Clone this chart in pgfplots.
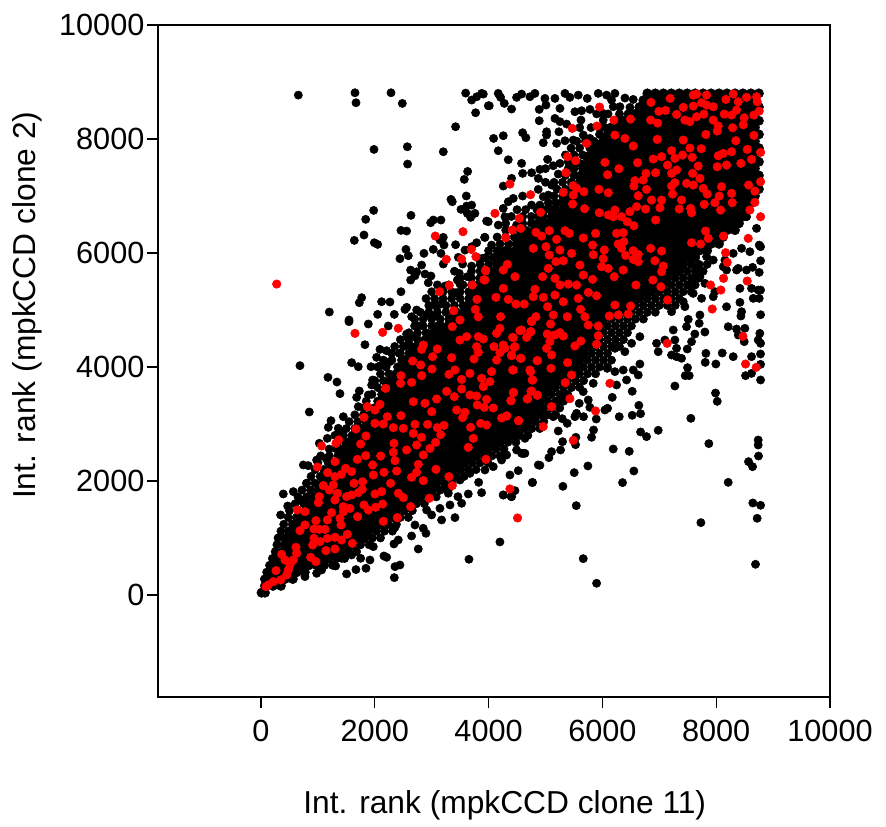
\documentclass[border=0pt]{standalone}
\usepackage{fontspec}
\setmainfont{Liberation Sans}
\usepackage{pgfplots}
\pgfplotsset{compat=1.18}
\begin{document}
\begin{tikzpicture}
\path[use as bounding box] (-118.5pt,-97.5pt) rectangle (546pt,522.75pt);
\begin{axis}[
 scale only axis,width=504pt,height=504pt,
 xmin=-1810,xmax=10000,ymin=-1790,ymax=10000,
 xtick={0,2000,4000,6000,8000,10000},ytick={0,2000,4000,6000,8000,10000},
 scaled ticks=false,
 tick align=outside,tick pos=left,major tick length=8.5pt,
 axis line style={line width=1.2pt,black},
 tick style={line width=0.8pt,black},
 tick label style={font=\fontsize{23}{28}\selectfont},
 label style={font=\fontsize{23.8}{28}\selectfont},
 x tick label style={yshift=-5pt},
 y tick label style={inner sep=1.5pt},
 /pgf/number format/assume math mode=true,
 /pgf/number format/1000 sep={},
 xlabel={Int. rank (mpkCCD clone 11)},
 ylabel={Int. rank (mpkCCD clone 2)},
 x label style={at={(axis description cs:0.516,-0.161)},anchor=center},
 y label style={at={(axis description cs:-0.195,0.583)},anchor=center},
 clip=false,
]
\addplot[only marks,color=black,mark=*,mark size=3.5pt] coordinates {
(10,40)(70,40)(70,160)(210,160)(350,160)(140,280)(280,280)(420,280)(560,280)(210,400)(350,400)(490,400)(630,400)(770,400)
(280,520)(420,520)(560,520)(700,520)(840,520)(980,520)(350,640)(490,640)(630,640)(770,640)(910,640)(1050,640)(1190,640)
(420,760)(560,760)(700,760)(840,760)(980,760)(1120,760)(1260,760)(1400,760)
(490,880)(630,880)(770,880)(910,880)(1050,880)(1190,880)(1330,880)(1470,880)(1610,880)
(560,1000)(700,1000)(840,1000)(980,1000)(1120,1000)(1260,1000)(1400,1000)(1540,1000)(1680,1000)(1820,1000)
(630,1120)(770,1120)(910,1120)(1050,1120)(1190,1120)(1330,1120)(1470,1120)(1610,1120)(1750,1120)(1890,1120)
(700,1240)(840,1240)(980,1240)(1120,1240)(1260,1240)(1400,1240)(1540,1240)(1680,1240)(1820,1240)(1960,1240)(2100,1240)
(770,1360)(910,1360)(1050,1360)(1190,1360)(1330,1360)(1470,1360)(1610,1360)(1750,1360)(1890,1360)(2030,1360)(2170,1360)
(840,1480)(980,1480)(1120,1480)(1260,1480)(1400,1480)(1540,1480)(1680,1480)(1820,1480)(1960,1480)(2100,1480)(2240,1480)(2380,1480)
(910,1600)(1050,1600)(1190,1600)(1330,1600)(1470,1600)(1610,1600)(1750,1600)(1890,1600)(2030,1600)(2170,1600)(2310,1600)(2450,1600)(2590,1600)
(980,1720)(1120,1720)(1260,1720)(1400,1720)(1540,1720)(1680,1720)(1820,1720)(1960,1720)(2100,1720)(2240,1720)(2380,1720)(2520,1720)(2660,1720)(2800,1720)
(1050,1840)(1190,1840)(1330,1840)(1470,1840)(1610,1840)(1750,1840)(1890,1840)(2030,1840)(2170,1840)(2310,1840)(2450,1840)(2590,1840)(2730,1840)(2870,1840)(3010,1840)
(1120,1960)(1260,1960)(1400,1960)(1540,1960)(1680,1960)(1820,1960)(1960,1960)(2100,1960)(2240,1960)(2380,1960)(2520,1960)(2660,1960)(2800,1960)(2940,1960)(3080,1960)
(1190,2080)(1330,2080)(1470,2080)(1610,2080)(1750,2080)(1890,2080)(2030,2080)(2170,2080)(2310,2080)(2450,2080)(2590,2080)(2730,2080)(2870,2080)(3010,2080)(3150,2080)(3290,2080)
(1260,2200)(1400,2200)(1540,2200)(1680,2200)(1820,2200)(1960,2200)(2100,2200)(2240,2200)(2380,2200)(2520,2200)(2660,2200)(2800,2200)(2940,2200)(3080,2200)(3220,2200)(3360,2200)(3500,2200)
(1330,2320)(1470,2320)(1610,2320)(1750,2320)(1890,2320)(2030,2320)(2170,2320)(2310,2320)(2450,2320)(2590,2320)(2730,2320)(2870,2320)(3010,2320)(3150,2320)(3290,2320)(3430,2320)(3570,2320)
(1400,2440)(1540,2440)(1680,2440)(1820,2440)(1960,2440)(2100,2440)(2240,2440)(2380,2440)(2520,2440)(2660,2440)(2800,2440)(2940,2440)(3080,2440)(3220,2440)(3360,2440)(3500,2440)(3640,2440)(3780,2440)
(1470,2560)(1610,2560)(1750,2560)(1890,2560)(2030,2560)(2170,2560)(2310,2560)(2450,2560)(2590,2560)(2730,2560)(2870,2560)(3010,2560)(3150,2560)(3290,2560)(3430,2560)(3570,2560)(3710,2560)(3850,2560)(3990,2560)
(1540,2680)(1680,2680)(1820,2680)(1960,2680)(2100,2680)(2240,2680)(2380,2680)(2520,2680)(2660,2680)(2800,2680)(2940,2680)(3080,2680)(3220,2680)(3360,2680)(3500,2680)(3640,2680)(3780,2680)(3920,2680)(4060,2680)(4200,2680)
(1750,2800)(1890,2800)(2030,2800)(2170,2800)(2310,2800)(2450,2800)(2590,2800)(2730,2800)(2870,2800)(3010,2800)(3150,2800)(3290,2800)(3430,2800)(3570,2800)(3710,2800)(3850,2800)(3990,2800)(4130,2800)(4270,2800)(4410,2800)
(1820,2920)(1960,2920)(2100,2920)(2240,2920)(2380,2920)(2520,2920)(2660,2920)(2800,2920)(2940,2920)(3080,2920)(3220,2920)(3360,2920)(3500,2920)(3640,2920)(3780,2920)(3920,2920)(4060,2920)(4200,2920)(4340,2920)(4480,2920)
(1890,3040)(2030,3040)(2170,3040)(2310,3040)(2450,3040)(2590,3040)(2730,3040)(2870,3040)(3010,3040)(3150,3040)(3290,3040)(3430,3040)(3570,3040)(3710,3040)(3850,3040)(3990,3040)(4130,3040)(4270,3040)(4410,3040)(4550,3040)
(1960,3160)(2100,3160)(2240,3160)(2380,3160)(2520,3160)(2660,3160)(2800,3160)(2940,3160)(3080,3160)(3220,3160)(3360,3160)(3500,3160)(3640,3160)(3780,3160)(3920,3160)(4060,3160)(4200,3160)(4340,3160)(4480,3160)(4620,3160)(4760,3160)
(2030,3280)(2170,3280)(2310,3280)(2450,3280)(2590,3280)(2730,3280)(2870,3280)(3010,3280)(3150,3280)(3290,3280)(3430,3280)(3570,3280)(3710,3280)(3850,3280)(3990,3280)(4130,3280)(4270,3280)(4410,3280)(4550,3280)(4690,3280)(4830,3280)
(2100,3400)(2240,3400)(2380,3400)(2520,3400)(2660,3400)(2800,3400)(2940,3400)(3080,3400)(3220,3400)(3360,3400)(3500,3400)(3640,3400)(3780,3400)(3920,3400)(4060,3400)(4200,3400)(4340,3400)(4480,3400)(4620,3400)(4760,3400)(4900,3400)
(2170,3520)(2310,3520)(2450,3520)(2590,3520)(2730,3520)(2870,3520)(3010,3520)(3150,3520)(3290,3520)(3430,3520)(3570,3520)(3710,3520)(3850,3520)(3990,3520)(4130,3520)(4270,3520)(4410,3520)(4550,3520)(4690,3520)(4830,3520)(4970,3520)
(2240,3640)(2380,3640)(2520,3640)(2660,3640)(2800,3640)(2940,3640)(3080,3640)(3220,3640)(3360,3640)(3500,3640)(3640,3640)(3780,3640)(3920,3640)(4060,3640)(4200,3640)(4340,3640)(4480,3640)(4620,3640)(4760,3640)(4900,3640)(5040,3640)
(2310,3760)(2450,3760)(2590,3760)(2730,3760)(2870,3760)(3010,3760)(3150,3760)(3290,3760)(3430,3760)(3570,3760)(3710,3760)(3850,3760)(3990,3760)(4130,3760)(4270,3760)(4410,3760)(4550,3760)(4690,3760)(4830,3760)(4970,3760)(5110,3760)(5250,3760)
(2380,3880)(2520,3880)(2660,3880)(2800,3880)(2940,3880)(3080,3880)(3220,3880)(3360,3880)(3500,3880)(3640,3880)(3780,3880)(3920,3880)(4060,3880)(4200,3880)(4340,3880)(4480,3880)(4620,3880)(4760,3880)(4900,3880)(5040,3880)(5180,3880)(5320,3880)
(2450,4000)(2590,4000)(2730,4000)(2870,4000)(3010,4000)(3150,4000)(3290,4000)(3430,4000)(3570,4000)(3710,4000)(3850,4000)(3990,4000)(4130,4000)(4270,4000)(4410,4000)(4550,4000)(4690,4000)(4830,4000)(4970,4000)(5110,4000)(5250,4000)(5390,4000)(5530,4000)
(2520,4120)(2660,4120)(2800,4120)(2940,4120)(3080,4120)(3220,4120)(3360,4120)(3500,4120)(3640,4120)(3780,4120)(3920,4120)(4060,4120)(4200,4120)(4340,4120)(4480,4120)(4620,4120)(4760,4120)(4900,4120)(5040,4120)(5180,4120)(5320,4120)(5460,4120)(5600,4120)
(2730,4240)(2870,4240)(3010,4240)(3150,4240)(3290,4240)(3430,4240)(3570,4240)(3710,4240)(3850,4240)(3990,4240)(4130,4240)(4270,4240)(4410,4240)(4550,4240)(4690,4240)(4830,4240)(4970,4240)(5110,4240)(5250,4240)(5390,4240)(5530,4240)(5670,4240)
(2800,4360)(2940,4360)(3080,4360)(3220,4360)(3360,4360)(3500,4360)(3640,4360)(3780,4360)(3920,4360)(4060,4360)(4200,4360)(4340,4360)(4480,4360)(4620,4360)(4760,4360)(4900,4360)(5040,4360)(5180,4360)(5320,4360)(5460,4360)(5600,4360)(5740,4360)
(3010,4480)(3150,4480)(3290,4480)(3430,4480)(3570,4480)(3710,4480)(3850,4480)(3990,4480)(4130,4480)(4270,4480)(4410,4480)(4550,4480)(4690,4480)(4830,4480)(4970,4480)(5110,4480)(5250,4480)(5390,4480)(5530,4480)(5670,4480)(5810,4480)
(3080,4600)(3220,4600)(3360,4600)(3500,4600)(3640,4600)(3780,4600)(3920,4600)(4060,4600)(4200,4600)(4340,4600)(4480,4600)(4620,4600)(4760,4600)(4900,4600)(5040,4600)(5180,4600)(5320,4600)(5460,4600)(5600,4600)(5740,4600)(5880,4600)
(3150,4720)(3290,4720)(3430,4720)(3570,4720)(3710,4720)(3850,4720)(3990,4720)(4130,4720)(4270,4720)(4410,4720)(4550,4720)(4690,4720)(4830,4720)(4970,4720)(5110,4720)(5250,4720)(5390,4720)(5530,4720)(5670,4720)(5810,4720)(5950,4720)
(3360,4840)(3500,4840)(3640,4840)(3780,4840)(3920,4840)(4060,4840)(4200,4840)(4340,4840)(4480,4840)(4620,4840)(4760,4840)(4900,4840)(5040,4840)(5180,4840)(5320,4840)(5460,4840)(5600,4840)(5740,4840)(5880,4840)(6020,4840)
(3430,4960)(3570,4960)(3710,4960)(3850,4960)(3990,4960)(4130,4960)(4270,4960)(4410,4960)(4550,4960)(4690,4960)(4830,4960)(4970,4960)(5110,4960)(5250,4960)(5390,4960)(5530,4960)(5670,4960)(5810,4960)(5950,4960)(6090,4960)
(3640,5080)(3780,5080)(3920,5080)(4060,5080)(4200,5080)(4340,5080)(4480,5080)(4620,5080)(4760,5080)(4900,5080)(5040,5080)(5180,5080)(5320,5080)(5460,5080)(5600,5080)(5740,5080)(5880,5080)(6020,5080)(6160,5080)(6300,5080)(6440,5080)
(3710,5200)(3850,5200)(3990,5200)(4130,5200)(4270,5200)(4410,5200)(4550,5200)(4690,5200)(4830,5200)(4970,5200)(5110,5200)(5250,5200)(5390,5200)(5530,5200)(5670,5200)(5810,5200)(5950,5200)(6090,5200)(6230,5200)(6370,5200)(6510,5200)(6650,5200)
(3780,5320)(3920,5320)(4060,5320)(4200,5320)(4340,5320)(4480,5320)(4620,5320)(4760,5320)(4900,5320)(5040,5320)(5180,5320)(5320,5320)(5460,5320)(5600,5320)(5740,5320)(5880,5320)(6020,5320)(6160,5320)(6300,5320)(6440,5320)(6580,5320)(6720,5320)(6860,5320)
(3850,5440)(3990,5440)(4130,5440)(4270,5440)(4410,5440)(4550,5440)(4690,5440)(4830,5440)(4970,5440)(5110,5440)(5250,5440)(5390,5440)(5530,5440)(5670,5440)(5810,5440)(5950,5440)(6090,5440)(6230,5440)(6370,5440)(6510,5440)(6650,5440)(6790,5440)(6930,5440)(7070,5440)
(3920,5560)(4060,5560)(4200,5560)(4340,5560)(4480,5560)(4620,5560)(4760,5560)(4900,5560)(5040,5560)(5180,5560)(5320,5560)(5460,5560)(5600,5560)(5740,5560)(5880,5560)(6020,5560)(6160,5560)(6300,5560)(6440,5560)(6580,5560)(6720,5560)(6860,5560)(7000,5560)(7140,5560)
(4130,5680)(4270,5680)(4410,5680)(4550,5680)(4690,5680)(4830,5680)(4970,5680)(5110,5680)(5250,5680)(5390,5680)(5530,5680)(5670,5680)(5810,5680)(5950,5680)(6090,5680)(6230,5680)(6370,5680)(6510,5680)(6650,5680)(6790,5680)(6930,5680)(7070,5680)(7210,5680)(7350,5680)
(4200,5800)(4340,5800)(4480,5800)(4620,5800)(4760,5800)(4900,5800)(5040,5800)(5180,5800)(5320,5800)(5460,5800)(5600,5800)(5740,5800)(5880,5800)(6020,5800)(6160,5800)(6300,5800)(6440,5800)(6580,5800)(6720,5800)(6860,5800)(7000,5800)(7140,5800)(7280,5800)(7420,5800)
(4270,5920)(4410,5920)(4550,5920)(4690,5920)(4830,5920)(4970,5920)(5110,5920)(5250,5920)(5390,5920)(5530,5920)(5670,5920)(5810,5920)(5950,5920)(6090,5920)(6230,5920)(6370,5920)(6510,5920)(6650,5920)(6790,5920)(6930,5920)(7070,5920)(7210,5920)(7350,5920)(7490,5920)(7630,5920)
(4340,6040)(4480,6040)(4620,6040)(4760,6040)(4900,6040)(5040,6040)(5180,6040)(5320,6040)(5460,6040)(5600,6040)(5740,6040)(5880,6040)(6020,6040)(6160,6040)(6300,6040)(6440,6040)(6580,6040)(6720,6040)(6860,6040)(7000,6040)(7140,6040)(7280,6040)(7420,6040)(7560,6040)(7700,6040)(7840,6040)
(4550,6160)(4690,6160)(4830,6160)(4970,6160)(5110,6160)(5250,6160)(5390,6160)(5530,6160)(5670,6160)(5810,6160)(5950,6160)(6090,6160)(6230,6160)(6370,6160)(6510,6160)(6650,6160)(6790,6160)(6930,6160)(7070,6160)(7210,6160)(7350,6160)(7490,6160)(7630,6160)(7770,6160)(7910,6160)(8050,6160)
(4620,6280)(4760,6280)(4900,6280)(5040,6280)(5180,6280)(5320,6280)(5460,6280)(5600,6280)(5740,6280)(5880,6280)(6020,6280)(6160,6280)(6300,6280)(6440,6280)(6580,6280)(6720,6280)(6860,6280)(7000,6280)(7140,6280)(7280,6280)(7420,6280)(7560,6280)(7700,6280)(7840,6280)(7980,6280)(8120,6280)
(4830,6400)(4970,6400)(5110,6400)(5250,6400)(5390,6400)(5530,6400)(5670,6400)(5810,6400)(5950,6400)(6090,6400)(6230,6400)(6370,6400)(6510,6400)(6650,6400)(6790,6400)(6930,6400)(7070,6400)(7210,6400)(7350,6400)(7490,6400)(7630,6400)(7770,6400)(7910,6400)(8050,6400)(8190,6400)(8330,6400)
(4900,6520)(5040,6520)(5180,6520)(5320,6520)(5460,6520)(5600,6520)(5740,6520)(5880,6520)(6020,6520)(6160,6520)(6300,6520)(6440,6520)(6580,6520)(6720,6520)(6860,6520)(7000,6520)(7140,6520)(7280,6520)(7420,6520)(7560,6520)(7700,6520)(7840,6520)(7980,6520)(8120,6520)(8260,6520)(8400,6520)
(5110,6640)(5250,6640)(5390,6640)(5530,6640)(5670,6640)(5810,6640)(5950,6640)(6090,6640)(6230,6640)(6370,6640)(6510,6640)(6650,6640)(6790,6640)(6930,6640)(7070,6640)(7210,6640)(7350,6640)(7490,6640)(7630,6640)(7770,6640)(7910,6640)(8050,6640)(8190,6640)(8330,6640)(8470,6640)
(5180,6760)(5320,6760)(5460,6760)(5600,6760)(5740,6760)(5880,6760)(6020,6760)(6160,6760)(6300,6760)(6440,6760)(6580,6760)(6720,6760)(6860,6760)(7000,6760)(7140,6760)(7280,6760)(7420,6760)(7560,6760)(7700,6760)(7840,6760)(7980,6760)(8120,6760)(8260,6760)(8400,6760)(8540,6760)
(5390,6880)(5530,6880)(5670,6880)(5810,6880)(5950,6880)(6090,6880)(6230,6880)(6370,6880)(6510,6880)(6650,6880)(6790,6880)(6930,6880)(7070,6880)(7210,6880)(7350,6880)(7490,6880)(7630,6880)(7770,6880)(7910,6880)(8050,6880)(8190,6880)(8330,6880)(8470,6880)(8610,6880)
(5460,7000)(5600,7000)(5740,7000)(5880,7000)(6020,7000)(6160,7000)(6300,7000)(6440,7000)(6580,7000)(6720,7000)(6860,7000)(7000,7000)(7140,7000)(7280,7000)(7420,7000)(7560,7000)(7700,7000)(7840,7000)(7980,7000)(8120,7000)(8260,7000)(8400,7000)(8540,7000)(8680,7000)
(5530,7120)(5670,7120)(5810,7120)(5950,7120)(6090,7120)(6230,7120)(6370,7120)(6510,7120)(6650,7120)(6790,7120)(6930,7120)(7070,7120)(7210,7120)(7350,7120)(7490,7120)(7630,7120)(7770,7120)(7910,7120)(8050,7120)(8190,7120)(8330,7120)(8470,7120)(8610,7120)(8750,7120)
(5600,7240)(5740,7240)(5880,7240)(6020,7240)(6160,7240)(6300,7240)(6440,7240)(6580,7240)(6720,7240)(6860,7240)(7000,7240)(7140,7240)(7280,7240)(7420,7240)(7560,7240)(7700,7240)(7840,7240)(7980,7240)(8120,7240)(8260,7240)(8400,7240)(8540,7240)(8680,7240)
(5670,7360)(5810,7360)(5950,7360)(6090,7360)(6230,7360)(6370,7360)(6510,7360)(6650,7360)(6790,7360)(6930,7360)(7070,7360)(7210,7360)(7350,7360)(7490,7360)(7630,7360)(7770,7360)(7910,7360)(8050,7360)(8190,7360)(8330,7360)(8470,7360)(8610,7360)(8750,7360)
(5740,7480)(5880,7480)(6020,7480)(6160,7480)(6300,7480)(6440,7480)(6580,7480)(6720,7480)(6860,7480)(7000,7480)(7140,7480)(7280,7480)(7420,7480)(7560,7480)(7700,7480)(7840,7480)(7980,7480)(8120,7480)(8260,7480)(8400,7480)(8540,7480)(8680,7480)
(5810,7600)(5950,7600)(6090,7600)(6230,7600)(6370,7600)(6510,7600)(6650,7600)(6790,7600)(6930,7600)(7070,7600)(7210,7600)(7350,7600)(7490,7600)(7630,7600)(7770,7600)(7910,7600)(8050,7600)(8190,7600)(8330,7600)(8470,7600)(8610,7600)(8750,7600)
(5880,7720)(6020,7720)(6160,7720)(6300,7720)(6440,7720)(6580,7720)(6720,7720)(6860,7720)(7000,7720)(7140,7720)(7280,7720)(7420,7720)(7560,7720)(7700,7720)(7840,7720)(7980,7720)(8120,7720)(8260,7720)(8400,7720)(8540,7720)(8680,7720)
(5950,7840)(6090,7840)(6230,7840)(6370,7840)(6510,7840)(6650,7840)(6790,7840)(6930,7840)(7070,7840)(7210,7840)(7350,7840)(7490,7840)(7630,7840)(7770,7840)(7910,7840)(8050,7840)(8190,7840)(8330,7840)(8470,7840)(8610,7840)(8750,7840)
(6020,7960)(6160,7960)(6300,7960)(6440,7960)(6580,7960)(6720,7960)(6860,7960)(7000,7960)(7140,7960)(7280,7960)(7420,7960)(7560,7960)(7700,7960)(7840,7960)(7980,7960)(8120,7960)(8260,7960)(8400,7960)(8540,7960)(8680,7960)
(6090,8080)(6230,8080)(6370,8080)(6510,8080)(6650,8080)(6790,8080)(6930,8080)(7070,8080)(7210,8080)(7350,8080)(7490,8080)(7630,8080)(7770,8080)(7910,8080)(8050,8080)(8190,8080)(8330,8080)(8470,8080)(8610,8080)(8750,8080)
(6160,8200)(6300,8200)(6440,8200)(6580,8200)(6720,8200)(6860,8200)(7000,8200)(7140,8200)(7280,8200)(7420,8200)(7560,8200)(7700,8200)(7840,8200)(7980,8200)(8120,8200)(8260,8200)(8400,8200)(8540,8200)(8680,8200)
(6230,8320)(6370,8320)(6510,8320)(6650,8320)(6790,8320)(6930,8320)(7070,8320)(7210,8320)(7350,8320)(7490,8320)(7630,8320)(7770,8320)(7910,8320)(8050,8320)(8190,8320)(8330,8320)(8470,8320)(8610,8320)(8750,8320)
(6580,8440)(6720,8440)(6860,8440)(7000,8440)(7140,8440)(7280,8440)(7420,8440)(7560,8440)(7700,8440)(7840,8440)(7980,8440)(8120,8440)(8260,8440)(8400,8440)(8540,8440)(8680,8440)
(6650,8560)(6790,8560)(6930,8560)(7070,8560)(7210,8560)(7350,8560)(7490,8560)(7630,8560)(7770,8560)(7910,8560)(8050,8560)(8190,8560)(8330,8560)(8470,8560)(8610,8560)(8750,8560)
(6720,8680)(6860,8680)(7000,8680)(7140,8680)(7280,8680)(7420,8680)(7560,8680)(7700,8680)(7840,8680)(7980,8680)(8120,8680)(8260,8680)(8400,8680)(8540,8680)(8680,8680)
(6790,8800)(6930,8800)(7070,8800)(7210,8800)(7350,8800)(7490,8800)(7630,8800)(7770,8800)(7910,8800)(8050,8800)(8190,8800)(8330,8800)(8470,8800)(8610,8800)(8750,8800)
};
\addplot[only marks,color=black,mark=*,mark size=3.1pt] coordinates {
(656,8770)(1652,8811)(1670,8636)(2285,8811)(2484,8624)(3597,8805)(3702,8683)(3790,8740)(3878,8800)(3995,8583)(3772,8460)(3420,8215)(1986,7817)(2572,7864)(2577,7560)(3204,7776)(3632,7431)(3573,7291)(3608,7000)(3339,6940)(3362,6900)(3702,6840)(3614,6823)(3515,6765)(3760,6695)(3626,6695)(3684,6625)(1980,6747)(2636,6660)(1840,6590)(3163,6578)(3028,6578)(2982,6531)(3965,6560)(2460,6396)(2560,6385)(1810,6315)(1640,6221)(1992,6180)(2050,6150)(3204,6274)(3146,6227)(3216,6140)(3930,6274)(3420,6145)(3790,6180)(3702,6110)(3028,6063)(2548,6063)(3163,5993)(2864,5993)(2589,5952)(2442,5900)(3585,6050)(3468,5923)(3544,5806)(3702,5771)(3204,5806)(2823,5788)(2630,5700)(2736,5670)(2882,5630)(2987,5596)(2630,5525)(2706,5600)(2940,5478)(3485,5642)(3626,5584)(3450,5525)(3497,5455)(3848,5555)(2460,5320)(3233,5420)(3427,5303)(1769,5216)(1728,5128)(2120,5145)(2267,5140)(1201,4964)(2560,5046)(2530,5010)(2736,5000)(3046,5080)(3163,5105)(2050,4923)(2343,4923)(1547,4824)(2882,4912)(3058,4906)(2648,4882)
(3907,8788)(4170,8800)(4211,8730)(4492,8730)(4580,8788)(4727,8741)(4814,8800)(4990,8712)(5166,8712)(5342,8800)(5429,8730)(5576,8770)(5734,8712)(5927,8800)(6074,8770)(6220,8800)(6161,8683)(6396,8718)(6542,8694)(6308,8566)(6484,8554)(5008,8595)(4890,8519)(5254,8537)(5517,8478)(5634,8496)(5781,8519)(4012,8583)(4276,8624)(4404,8525)(4890,8320)(5166,8361)(5254,8303)(5623,8332)(5371,8262)(5019,8127)(5236,8127)(4088,8010)(4258,8057)(4598,8110)(4656,8022)(4170,7794)(4346,7636)(5037,7642)(4580,7572)(4598,7396)(4756,7408)(4902,7466)(4873,7309)(5137,7531)(5254,7572)(5224,7385)(4404,7309)(4258,7174)(5107,7192)(4873,7116)(5049,7016)(4961,6987)(4598,6999)(4434,6958)(4346,6899)(4258,6782)(4756,6841)(4902,6841)(3994,6549)(4287,6636)(4492,6490)(4170,6490)(4715,6373)(3936,6274)(4551,6285)(4053,6139)(4258,6022)(3895,5905)(5019,8069)(4961,7934)(5195,7923)(5342,7969)(5488,7981)(5664,8069)(5781,8010)(5898,7923)(5839,7776)(5722,7689)(5605,7572)(5722,7572)(5898,7689)(6015,8332)(6161,8215)(6366,8273)(6542,8215)(6015,8449)(6191,8566)
(8211,4707)(8358,4666)(8504,4678)(8387,4561)(8492,4444)(8767,4590)(8738,4473)(8780,4415)(7819,4239)(8106,4245)(8299,4181)(8621,4181)(8779,4228)(7807,4081)(7994,4052)(8780,4046)(8516,3848)(8621,3888)(8780,3772)(7701,4766)(7625,4578)(7801,4613)(7567,4444)(7491,4315)(7496,3988)(7456,3848)(7526,3848)(7274,3666)(7988,3543)(8018,3397)(7555,3099)(6981,2889)(6776,2778)(6671,2860)(7871,2655)(8738,2719)(8738,2631)(8744,2438)(8568,2339)(8639,2251)(6190,2561)(6472,2520)(6553,2175)(6354,1971)(5745,2263)(5505,2146)(5306,1906)(4767,1971)(4902,2275)(5060,2409)(5107,2514)(5265,2544)(5300,2690)(5534,2766)(5528,2637)(5810,2766)(5845,2895)(5892,3087)(5669,3128)(6296,3128)(6524,3152)(6671,3181)(6641,3327)(6044,3245)(6091,3275)(6173,3467)(6524,3573)(5517,3128)(5382,3011)(5224,2877)(5294,3093)(4521,2181)(4580,2485)(4638,2485)(4375,2105)(4463,1830)(4258,1754)(4398,1725)(5540,1567)(7731,1269)(5663,637)(5898,205)(8691,538)(8211,1976)(8644,1614)(8780,1573)(8720,1345)(4199,930)
(6659,4052)(6542,3947)(6220,3918)(6366,3947)(6425,3772)(6630,3859)(6085,3976)(6249,3684)(5839,3713)(5663,3567)(5751,3421)(5780,3292)(5593,3362)(5546,3187)(5370,3508)(5253,3421)(5136,3128)(4960,3187)(6659,4532)(6513,4415)(6395,4268)(6220,4327)(6952,4415)(7215,4210)(7391,4152)(7303,4181)(7274,4473)(7303,4327)(7098,4473)(7245,4649)(6981,4268)(7479,4707)
(685,4023)(1827,4391)(1177,3818)(1335,3736)(1388,3532)(849,3210)(392,1772)(568,1813)(345,1404)(469,1561)(744,2281)(832,2269)(978,2368)(1025,2661)(1166,2748)(1230,3058)(1447,3128)(1183,2941)(1359,2924)(1388,2865)(1142,2398)(803,1959)(685,1667)(1593,4076)(1710,4005)(1933,4005)(2091,4017)(1962,3771)(1945,3684)(1728,3579)(1681,3467)(1886,3508)(1710,3304)(2091,4309)(2208,4286)(2032,4169)(2267,4093)(2431,4239)(2589,4502)(2530,4368)(2559,4578)(1886,4754)(1546,4795)(2237,4719)(2765,4719)(2706,4532)(2911,4590)
(2343,304)(2442,526)(2355,497)(1845,468)(1669,445)(1505,369)(1312,509)(1751,643)(1915,614)(2161,684)(2208,661)(2764,807)(2337,895)(2413,965)(2647,1035)(2899,1082)(2852,1170)(2706,1228)(2355,1187)(3174,1316)(3409,1357)(2999,1404)(2911,1491)(3145,1520)(3321,1579)(3526,1608)(3643,1772)(3877,1795)(3461,1725)(3292,1784)(3825,1976)(4773,1976)(4258,1754)(4405,1725)(3655,626)(1066,439)(773,322)(1769,965)(1974,848)(1593,702)(1417,643)(1154,643)(978,380)(3262,1871)(3497,2017)(3672,2134)(3936,2193)(4082,2251)(4229,2368)(4317,2456)(4492,2544)(4609,2485)(4873,2281)(4639,2748)(4434,2807)(4112,2631)(4492,2895)(4785,3070)(4668,2953)
(6090,4720)(6230,4720)(6370,4720)(6510,4720)(6160,4840)(6300,4840)(6440,4840)(6580,4840)(6720,4840)(6230,4960)(6370,4960)(6510,4960)(6650,4960)(6790,4960)(6930,4960)(6580,5080)(6720,5080)(6860,5080)(7000,5080)(7140,5080)(7280,5080)(6790,5200)(6930,5200)(7070,5200)(7210,5200)(7350,5200)(7000,5320)(7140,5320)(7280,5320)(7420,5320)(7560,5320)(7210,5440)(7350,5440)(7490,5440)(7630,5440)(7280,5560)(7420,5560)(7560,5560)(7700,5560)(7490,5680)(7630,5680)(7770,5680)(7560,5800)(7700,5800)(7840,5800)
(8534,6636)(8709,6432)(8780,6110)(8756,6139)(8446,6081)(8592,6022)(8780,5864)(8387,5730)(8533,5701)(8639,5748)(8756,5660)(8358,5701)(8417,5379)(8621,5379)(8738,5350)(8780,5350)(8651,5204)(8756,5204)(8417,5134)(8182,5057)(8446,4970)(8434,4894)(8780,4917)(7714,4912)(7509,4836)(7216,4970)(7714,5584)(7802,5467)(7626,5584)(7509,5438)(8124,5759)(8182,5701)(7948,5876)(7831,5935)(8299,5993)(8153,5876)(7655,5759)(7567,5876)(7977,5321)(7948,5233)(7450,5058)(7421,5145)(7596,5291)(7743,5204)
(5900,8440)(6100,8440)(6300,8440)(6450,8440)(5600,8200)(5800,8200)(5950,8200)(6050,8200)(5950,8080)(5550,7960)(5700,7960)(5850,7960)(5450,7840)(5600,7840)(5780,7840)(5850,7840)(5350,7720)(5500,7720)(5650,7720)(5780,7720)(5400,7600)(5500,7600)(5000,7480)(5400,7480)(5500,7480)(5650,7480)(5350,7360)(5500,7360)(5600,7360)(5000,7240)(5150,7240)(5300,7240)(5450,7240)(5200,7120)(5350,7120)(5480,7120)(5150,7000)(5300,7000)(5400,7000)(5050,6880)(5180,6880)(5280,6880)(4500,6760)(4650,6760)(4850,6760)(5000,6760)(5100,6760)(4400,6640)(4600,6640)(4750,6640)(4880,6640)(4960,6640)(4300,6520)(4600,6520)(4750,6520)(4850,6520)(4300,6400)(4550,6400)(4650,6400)(4150,6280)(4300,6280)(4450,6280)(4550,6280)(4200,6160)(4350,6160)(4480,6160)(4000,6040)(4150,6040)(4280,6040)(3800,5920)(3950,5920)(4080,5920)(4200,5920)(3850,5800)(4000,5800)(4130,5800)(3400,5680)(3700,5680)(3850,5680)(4050,5680)(3500,5560)(3700,5560)(3850,5560)(3100,5440)(3300,5440)(3550,5440)(3700,5440)(3800,5440)(3000,5320)(3200,5320)(3350,5320)(3500,5320)(3650,5320)(3730,5320)(2900,5200)(3050,5200)(3200,5200)(3350,5200)(3500,5200)(3650,5200)(2950,5080)(3100,5080)(3250,5080)(3400,5080)(3550,5080)(2800,4960)(2950,4960)(3100,4960)(3250,4960)(3380,4960)(2700,4840)(2850,4840)(3000,4840)(3150,4840)(3300,4840)(2700,4720)(2850,4720)(3000,4720)(3100,4720)(2600,4600)(2750,4600)(2900,4600)(3030,4600)(2450,4480)(2600,4480)(2750,4480)(2880,4480)(2350,4360)(2500,4360)(2650,4360)(2750,4360)(2300,4240)(2450,4240)(2600,4240)(2680,4240)(2150,4120)(2300,4120)(2470,4120)(2050,4000)(2200,4000)(2400,4000)(2100,3880)(2250,3880)(2000,3760)(2150,3760)(2260,3760)(2050,3640)(2190,3640)(1950,3520)(2120,3520)(1850,3400)(2050,3400)(1800,3280)(1980,3280)(1650,3160)(1800,3160)(1910,3160)(1550,3040)(1700,3040)(1840,3040)(1500,2920)(1650,2920)(1770,2920)(1300,2800)(1450,2800)(1600,2800)(1700,2800)(1350,2680)(1490,2680)(1200,2560)(1330,2560)(1420,2560)(1050,2440)(1200,2440)(1350,2440)(1000,2320)(1180,2320)(1280,2320)(950,2200)(1100,2200)(1210,2200)(880,2080)(1040,2080)(1140,2080)(800,1960)(950,1960)(1070,1960)(720,1840)(870,1840)(1000,1840)(650,1720)(800,1720)(930,1720)(600,1600)(750,1600)(860,1600)(500,1480)(650,1480)(790,1480)(480,1360)(620,1360)(720,1360)(400,1240)(550,1240)(650,1240)(350,1120)(480,1120)(580,1120)(300,1000)(420,1000)(510,1000)(280,880)(400,880)(250,760)(370,760)(200,640)(300,640)(150,520)(230,520)(100,400)(160,400)(60,280)
(1120,520)(1260,520)(1330,640)(1470,640)(1540,760)(1680,760)(1750,880)(1900,880)(1960,1000)(2100,1000)(2030,1120)(2170,1120)(2310,1120)(2240,1240)(2380,1240)(2310,1360)(2450,1360)(2590,1360)(2520,1480)(2660,1480)(2730,1600)(2870,1600)(2940,1720)(3080,1720)(3150,1840)(3290,1840)(3220,1960)(3360,1960)(3430,2080)(3570,2080)(3640,2200)(3780,2200)(3710,2320)(3850,2320)(3990,2320)(3920,2440)(4060,2440)(4200,2440)(4130,2560)(4270,2560)(4340,2680)(4480,2680)(4550,2800)(4690,2800)(4620,2920)(4760,2920)(4900,2920)(4690,3040)(4830,3040)(4970,3040)(4900,3160)(5040,3160)(5180,3160)(4970,3280)(5110,3280)(5250,3280)(5040,3400)(5180,3400)(5320,3400)(5110,3520)(5250,3520)(5390,3520)(5180,3640)(5320,3640)(5460,3640)(5600,3640)(5390,3760)(5530,3760)(5670,3760)(5460,3880)(5600,3880)(5740,3880)(5880,3880)(5670,4000)(5810,4000)(5950,4000)(6090,4000)(5740,4120)(5880,4120)(6020,4120)(6160,4120)(5810,4240)(5950,4240)(6090,4240)(5880,4360)(6020,4360)(6160,4360)(6300,4360)(5950,4480)(6090,4480)(6230,4480)(6370,4480)(6020,4600)(6160,4600)(6300,4600)(6440,4600)
};
\addplot[only marks,color=red,mark=*,mark size=3.2pt] coordinates {
(276,5455)(3063,6297)(3550,6373)(3696,6063)(3778,5935)(3257,5888)(3526,5894)(3948,5695)(3919,5531)(3310,5432)(3714,5438)(3140,5320)(3796,5186)(3386,4987)(3766,5010)(3819,4880)(3497,4824)
(8469,4537)(7139,4415)(8516,4052)(8703,3994)(6132,3713)(5880,3228)(5429,3444)(5107,3304)(4960,2953)(5488,2713)(4375,1860)(4509,1351)(5347,3725)(5458,3859)(5388,4076)(5095,3976)(4527,3058)(4316,3140)(4685,3444)(4855,3503)(4392,3409)(4439,3555)(4744,3573)(4767,3772)(4726,3947)(4422,3947)(4855,4111)(4562,4152)(4404,4210)(4451,4345)(4287,4327)(4668,4520)(4422,4520)(4550,4637)(4738,4619)(5031,4578)(5107,4210)(5019,4327)(5077,4444)(5165,4561)(5253,4602)(5312,4543)(5517,4368)(5622,4456)(5897,4397)(5927,4549)(5927,4719)(5751,4736)(5089,4754)(4755,4806)
(1652,4590)(2138,4608)(2413,4678)(3362,4707)(2852,4385)(2823,4309)(3098,4315)(3016,4181)(2665,4105)(2806,4035)(3005,3964)(3350,4163)(3743,4140)(3497,4473)(3614,4532)(3819,4532)(3907,4491)(4141,4590)(4434,4514)(4580,4649)(4744,4619)(4756,4795)(4199,4678)(4258,4385)(4463,4356)(4094,4356)(3789,4356)(3819,4257)(4199,4251)(4404,4198)(4568,4152)(4141,4122)(4855,4111)(4434,3947)(4053,3918)(3672,3888)(3409,3947)(3303,3871)(3526,3783)(3877,3801)(4024,3742)(4738,3918)(4774,3771)(4756,3579)(4434,3549)(4393,3409)(4680,3438)(4855,3508)(3965,3432)(3526,3614)(3262,3573)(3397,3479)(3672,3508)(3789,3491)(3907,3655)(3801,3333)(3924,3292)(4082,3280)(3087,3438)(2882,3362)(2677,3391)(3000,3216)(3438,3245)(3543,3111)(3584,3204)(4229,3105)(4317,3140)(4527,3058)(3965,2982)(3860,3011)(3684,2941)(3216,2976)(3098,2935)(2929,2994)(3157,2813)(2706,2994)(2501,2924)(2460,3146)(2325,2935)(2220,3128)(2003,3011)(2149,2999)(1669,2912)(1845,2789)(1810,3117)(1868,3304)(2091,3345)(2003,3245)(2190,3625)(2454,3713)(2460,3848)(2647,3731)(2823,3848)(3731,2748)(3643,2590)(3953,2380)(3069,2678)(2970,2573)(2853,2456)(2823,2766)(2677,2836)(2559,2544)(2735,2631)(2337,2660)(2325,2503)(2355,2357)(2384,2175)(2765,2292)(2735,2152)(2647,2064)(2852,2006)(3075,2204)(3303,2076)(3362,1918)(2958,1696)(2630,1550)(2501,1708)(2413,1784)(2396,1357)(2149,1292)(2138,1596)(2015,1538)(1886,1491)(1810,1579)(2003,1772)(2120,1813)(1780,1854)(1710,1795)(1786,1988)(1634,1959)(1593,2164)(1488,2222)(1412,2117)(1300,2076)(1171,2146)(1300,2339)(990,2245)(1066,2614)(1318,2661)(1365,2719)(1751,2649)(1693,2380)(1839,2444)(1962,2281)(2103,2438)(1974,2105)(2161,2152)(2278,1959)(1095,1918)(1271,1930)(1201,1842)(1341,1784)(1025,1725)(1008,1620)(1300,1667)(1505,1725)(1593,1754)(1447,1550)(1564,1520)(1698,1374)(1447,1462)(1242,1444)(1166,1316)(1125,1152)(966,1304)(773,1462)(638,1491)(773,1228)(685,1129)(931,1158)(1025,1152)(1388,1345)(1406,1228)(1517,1064)(1417,965)(1300,1012)(1166,994)(1037,936)(931,994)(908,877)(1605,906)(1300,807)(1142,778)(873,661)(966,585)(615,836)(627,731)(363,713)(422,614)(568,614)(264,427)(510,526)(480,439)(451,351)(346,263)(217,234)(129,176)(88,146)
(5951,8560)(5470,8186)(6495,8349)(6202,8332)(5904,8227)(6853,8642)(6847,8332)(6970,8279)(7192,8712)(6993,8484)(7110,8501)(7304,8431)(7421,8554)(7597,8770)(7655,8788)(7831,8770)(7597,8577)(7743,8636)(7948,8566)(7831,8595)(7450,8332)(7538,8303)(7655,8390)(7784,8437)(7948,8332)(8036,8227)(8018,8139)(8141,8437)(8170,8694)(8299,8788)(8533,8730)(8387,8653)(8358,8507)(8270,8420)(8492,8373)(8475,8250)(8288,8197)(8709,8741)(8721,8653)(8756,8490)(8662,8420)(8662,8063)(7819,8080)(6964,7993)(7421,7981)(6220,8069)(6396,8010)(6542,7876)(5722,7923)(5388,7689)(5529,7619)(6044,7589)(5359,7408)(6091,7373)(6290,7478)(6618,7583)(6935,7408)(6765,7396)(7216,7794)(7538,7841)(7737,7829)(8346,7969)(8270,7776)(8545,7817)(8780,7765)(8621,7642)(8434,7572)(8036,7706)(8124,7747)(8182,7543)(8018,7513)(7409,7718)(7274,7660)(7040,7689)(6894,7648)(7145,7543)(7304,7455)(7579,7677)(7684,7525)(7585,7396)(7714,7309)(7216,7396)(7274,7233)(7216,7174)(7479,7221)(7597,7192)(7772,7133)(7842,7034)(8094,7163)(8053,6999)(8270,7046)(8282,6882)(7977,6882)(8077,6753)(8569,7192)(8680,7086)(8780,7250)(8680,6888)(8592,6753)(8780,6636)(7233,7034)(7391,6929)(7790,6853)(7350,6771)(7550,6782)(7567,6706)(7040,6929)(7011,6794)(6864,6929)(6759,6771)(6601,6812)(6484,6724)(6776,7116)(6718,7279)(6571,7268)(6554,7174)(6630,7005)(6103,7057)(5939,7116)(5675,7075)(5488,7180)(5547,7133)(5312,7063)(5488,7016)(5476,6858)(5687,6777)(5945,6706)(6103,6666)(6191,6636)(6220,6753)(6337,6636)(6935,6578)(6554,6478)(6437,6549)(4914,6712)(4738,7022)(4375,7209)(4112,6695)(4539,6607)(4416,6402)(4563,6432)(4299,6268)(4832,6362)(4931,6297)(5066,6391)(5195,6239)(5342,6391)(5418,6344)(5664,6262)(5880,6344)(6249,6344)(6366,6356)(6378,6198)(6279,6157)(6337,6081)(5828,6139)(6033,6052)(5839,5970)(6015,5900)(6408,5958)(6542,6040)(6630,5975)(6542,5888)(6630,5847)(6847,6081)(7040,6034)(6923,5864)(7069,5771)(7040,5671)(6366,5701)(6208,5584)(5986,5759)(6103,5730)(7567,6180)(7725,6157)(7813,6385)(7860,6256)(8129,6297)(8563,6256)(8165,6005)(8194,5835)(8129,5555)(8545,5508)(7901,5438)(8082,5350)(7930,5017)(6589,5438)(6888,5525)(7028,5408)(7145,5175)(6495,5069)(6220,5087)(5898,5250)(5752,5309)(5576,5204)(5617,5011)(5400,5455)(5547,5438)(5254,5438)(5312,5145)(5166,5262)(5037,5057)(4961,5221)(4785,5233)(4814,5362)(4481,5104)(4627,5104)(4346,5186)(4129,5221)(4258,5379)(4463,5584)(3936,5525)(3948,5689)(4258,5701)(4328,5800)(4949,5584)(5166,5555)(5049,5730)(5183,5847)(5312,5864)(5459,5993)(5605,5788)(5664,5613)(5828,5537)(4785,6081)(5008,6110)(5254,6052)(5066,5964)(4211,4882)(4832,4882)(5137,4912)(5382,4882)(5693,4882)(6120,4894)(6279,4912)(6454,4929)
};
\end{axis}
\end{tikzpicture}
\end{document}
